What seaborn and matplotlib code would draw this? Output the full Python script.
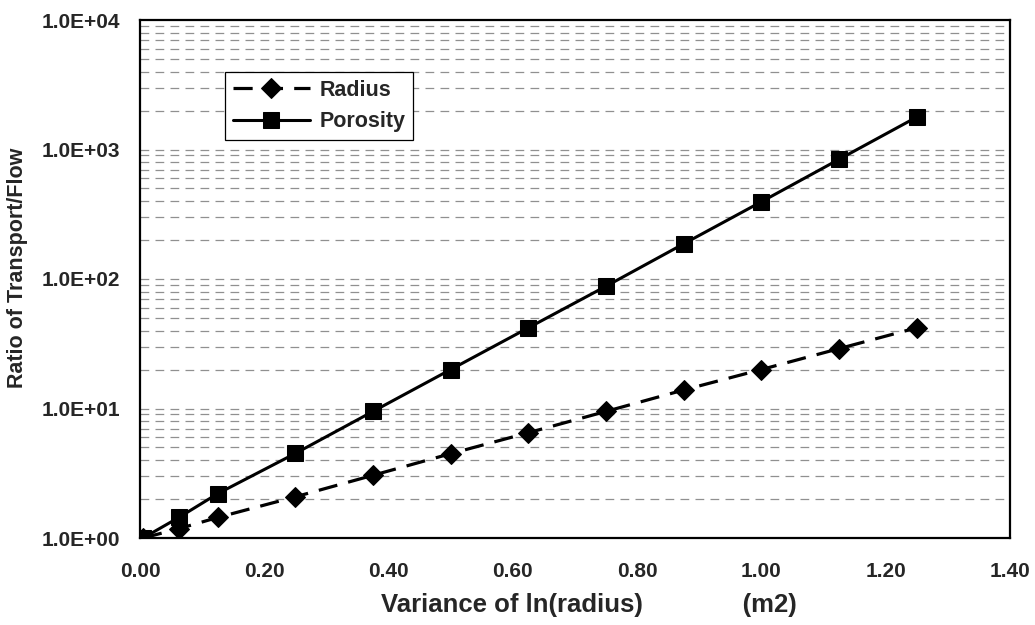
import matplotlib
matplotlib.use("Agg")
import matplotlib.pyplot as plt
import seaborn as sns
import pandas as pd
from matplotlib.ticker import FixedLocator, NullFormatter, FixedFormatter

sns.set_theme(style="white")
plt.rcParams['font.family'] = ['Liberation Sans', 'DejaVu Sans']

variance = [0.005, 0.0625, 0.125, 0.25, 0.375, 0.5, 0.625, 0.75, 0.875, 1.0, 1.125, 1.25]
radius = [1.0, 1.18, 1.44, 2.08, 3.05, 4.48, 6.5, 9.5, 13.9, 20.0, 29.0, 42.0]
porosity = [1.0, 1.44, 2.2, 4.5, 9.5, 20.0, 42.0, 88.0, 187.0, 395.0, 840.0, 1780.0]

x_ticks = [0.0, 0.2, 0.4, 0.6, 0.8, 1.0, 1.2, 1.4]
x_tick_labels = ["0.00", "0.20", "0.40", "0.60", "0.80", "1.00", "1.20", "1.40"]
y_ticks = [1, 10, 100, 1000, 10000]
y_tick_labels = ["1.0E+00", "1.0E+01", "1.0E+02", "1.0E+03", "1.0E+04"]

df = pd.DataFrame({
    "variance": variance * 2,
    "value": radius + porosity,
    "series": ["Radius"] * len(variance) + ["Porosity"] * len(variance),
})

fig = plt.figure(figsize=(10.35, 6.25), dpi=100)
ax = fig.add_axes([140 / 1035, 1 - 538 / 625, 870 / 1035, 518 / 625])
ax.set_yscale("log")

# gridlines at every log step
for dec in [1, 10, 100, 1000]:
    for m in range(1, 10):
        v = dec * m
        if v == 1:
            continue
        ax.axhline(v, color="#909090", lw=0.9, ls=(0, (7, 5)), zorder=0)

sns.lineplot(data=df[df.series == "Radius"], x="variance", y="value", ax=ax,
             color="black", lw=2.3, linestyle=(0, (6, 3.5)), marker="D", markersize=10,
             markeredgecolor="black", markerfacecolor="black", label="Radius")
sns.lineplot(data=df[df.series == "Porosity"], x="variance", y="value", ax=ax,
             color="black", lw=2.2, linestyle="-", marker="s", markersize=11,
             markeredgecolor="black", markerfacecolor="black", label="Porosity")

ax.set_xlim(0, 1.4)
ax.set_ylim(1, 10000)
ax.xaxis.set_major_locator(FixedLocator(x_ticks))
ax.xaxis.set_major_formatter(FixedFormatter(x_tick_labels))
ax.yaxis.set_major_locator(FixedLocator(y_ticks))
ax.yaxis.set_major_formatter(FixedFormatter(y_tick_labels))
ax.yaxis.set_minor_formatter(NullFormatter())
ax.tick_params(axis="both", which="both", length=0, labelsize=15)
ax.tick_params(axis="x", pad=17)
ax.tick_params(axis="y", pad=14)
for lab in ax.get_xticklabels() + ax.get_yticklabels():
    lab.set_fontweight("bold")

for s in ax.spines.values():
    s.set_color("black")
    s.set_linewidth(1.6)

ax.set_xlabel("Variance of ln(radius)              (m2)", fontsize=18.5, fontweight="bold", labelpad=9)
ax.xaxis.label.set_x(0.5 + 14 / 870)
ax.set_ylabel("")
fig.text(18 / 1035, 1 - 268 / 625, "Ratio of Transport/Flow", rotation=90,
         ha="center", va="center", fontsize=15.5, fontweight="bold")

leg = ax.legend(loc="upper left", bbox_to_anchor=(225 / 1035, 1 - 72 / 625),
                bbox_transform=fig.transFigure, frameon=True, fancybox=False,
                handlelength=3.6, borderpad=0.35, labelspacing=0.5, handletextpad=0.45,
                borderaxespad=0, prop={"weight": "bold", "size": 15.5},
                edgecolor="black", framealpha=1)
leg.get_frame().set_linewidth(0.9)

fig.savefig("out.png", dpi=100)
